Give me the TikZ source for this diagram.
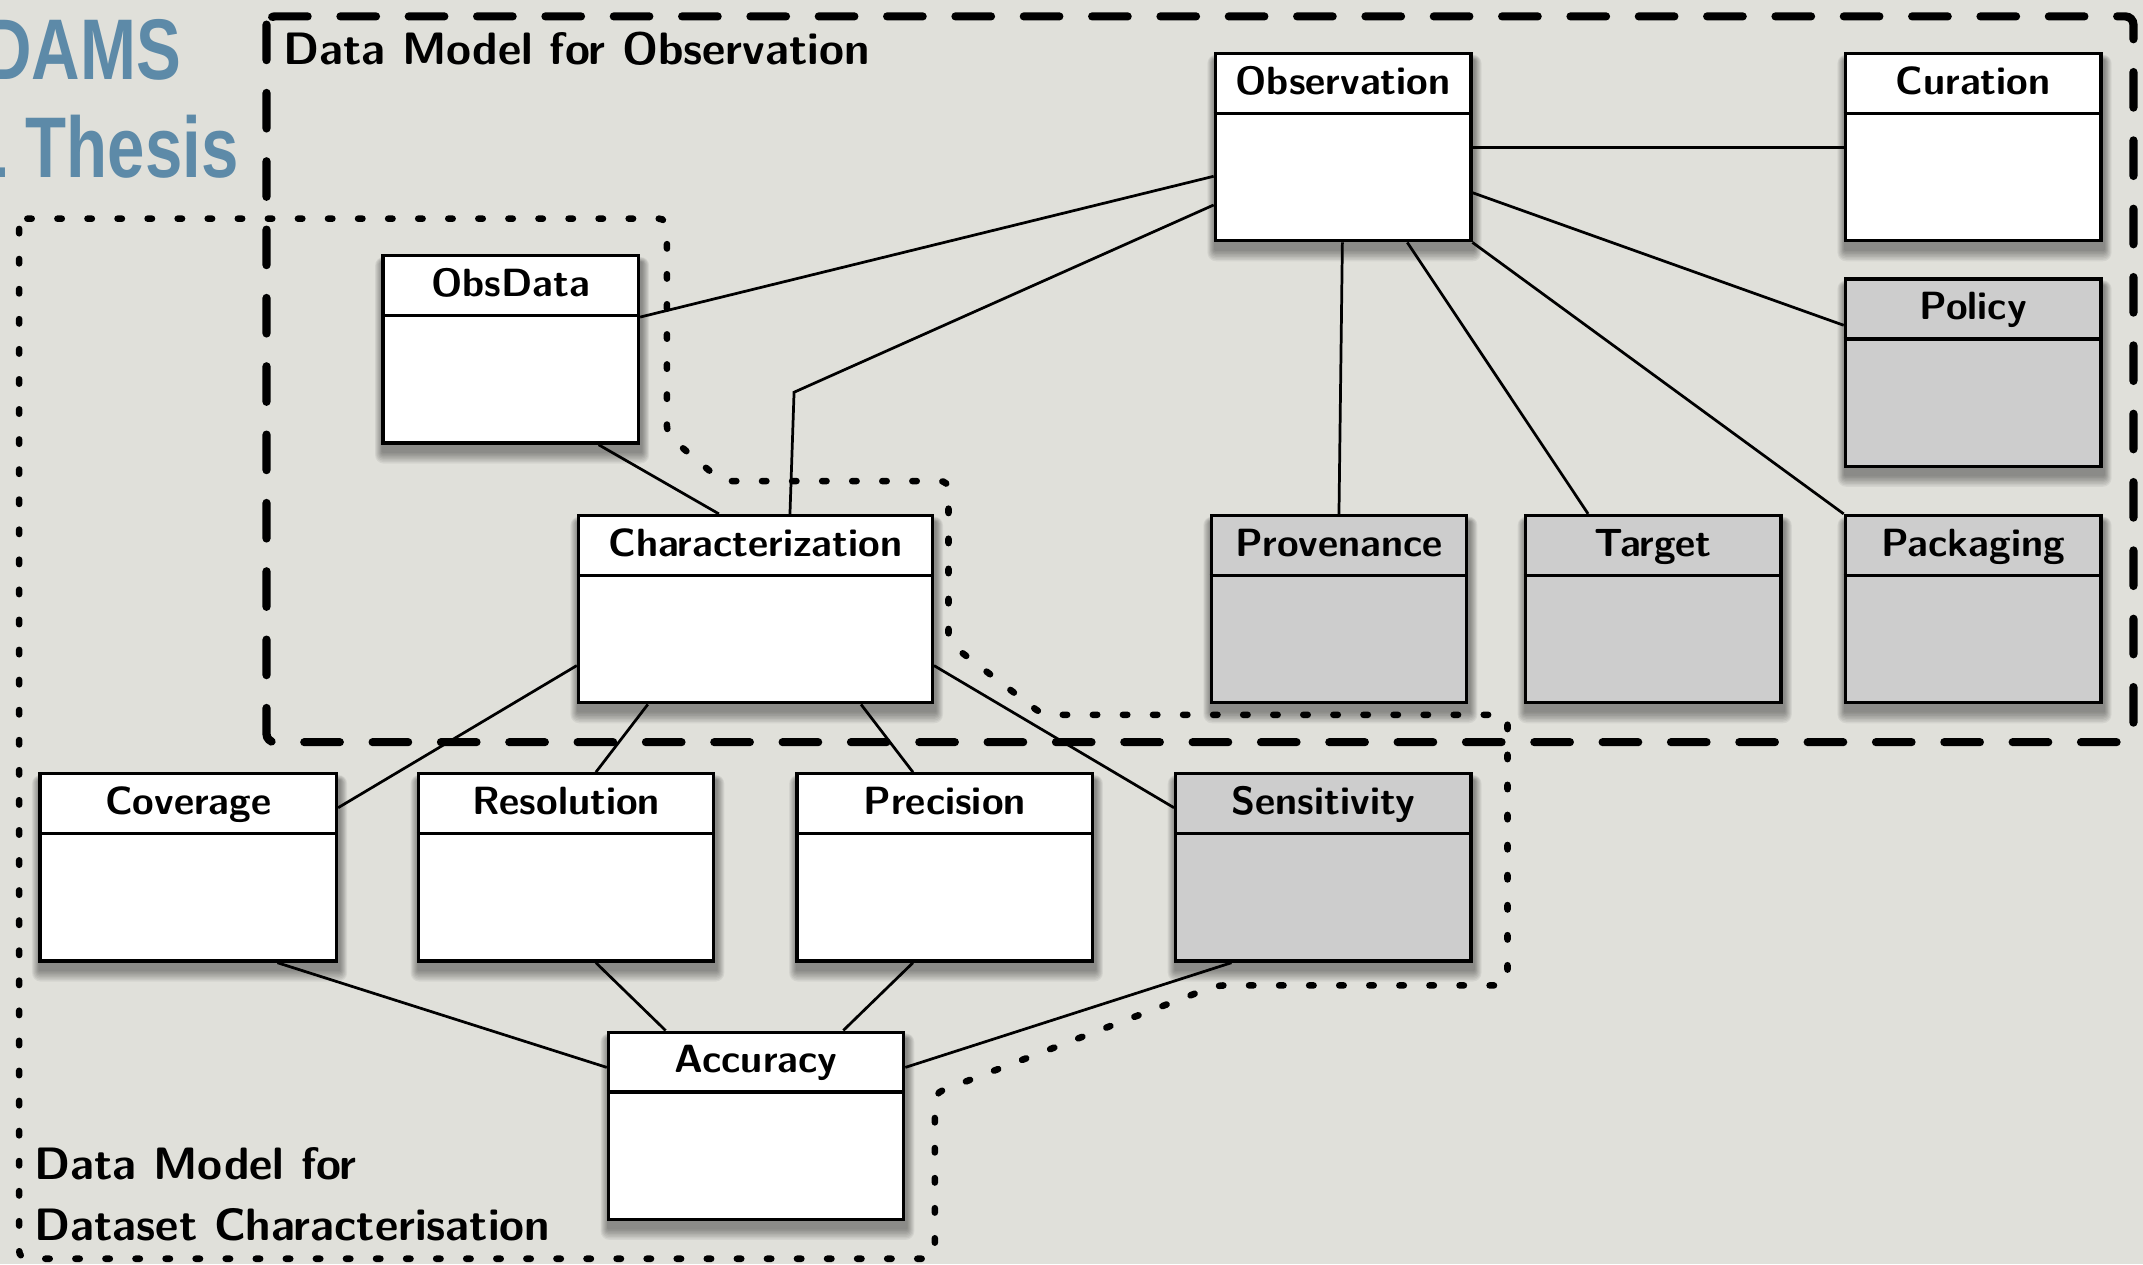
\documentclass[tikz,border=0pt]{standalone}
\usepackage{fontspec}
\usetikzlibrary{calc}
\newfontfamily\titlefont[FakeStretch=0.78]{Liberation Sans}
\definecolor{paper}{HTML}{E0E0DA}
\definecolor{titleblue}{HTML}{5D8AA8}
\definecolor{boxgray}{HTML}{CDCDCD}
\pgfdeclarelayer{paperlayer}
\pgfdeclarelayer{back}
\pgfdeclarelayer{shadowlayer}
\pgfsetlayers{paperlayer,back,shadowlayer,main}
\tikzset{
  umlclass/.style={draw=black, line width=1.2pt, inner sep=0pt, anchor=north west,
    minimum height=68.5pt},
  softshadow/.style={fill=black, opacity=0.055},
  classname/.style={anchor=base, inner sep=0pt, font=\fontsize{14.4}{16}\selectfont\sffamily\bfseries},
  framelabel/.style={anchor=base west, inner sep=0pt, font=\fontsize{16.6}{19}\selectfont\sffamily\bfseries},
  titletext/.style={anchor=base east, inner sep=0pt, text=titleblue, font=\fontsize{31.5}{34}\selectfont\titlefont\bfseries},
  conn/.style={draw=black, line width=1pt},
  obsframe/.style={draw=black, line width=3pt, line cap=round, dash pattern=on 13pt off 12pt, rounded corners=3pt},
  charframe/.style={draw=black, line width=2.4pt, line cap=round, dash pattern=on 1.6pt off 9.4pt, rounded corners=3pt}
}
% name, x, y, width (px), label, fill
\newcommand\UMLclass[6]{%
  \node[umlclass, fill=#6, minimum width=#4*0.5pt] (#1) at (#2,#3) {};
  \draw[line width=1.2pt] ($(#1.north west)+(0,45)$) -- ($(#1.north east)+(0,45)$);
  \node[classname] (#1-name) at ($(#1.north)+(0,31)$) {#5};
  \begin{pgfonlayer}{shadowlayer}
  \foreach \e in {1,...,8} {
    \fill[softshadow, rounded corners=\e*0.4pt] ($(#1.north west)+(-0.7*\e+1,-0.5*\e+6)$) rectangle ($(#1.south east)+(0.7*\e+1,1.1*\e+5)$);
  }
  \end{pgfonlayer}
}
\begin{document}
\begin{tikzpicture}[x=0.5pt, y=-0.5pt]
\useasboundingbox (0,0) rectangle (1568,925);
\begin{pgfonlayer}{paperlayer}
\fill[paper] (0,0) rectangle (1568,925);
\end{pgfonlayer}
\begin{scope}
\clip (0,0) rectangle (1568,925);
\node[titletext] (title1) at (133,58.5) {DAMS};
\node[titletext] (title2) at (175,130) {L Thesis};
\end{scope}

% classes
\UMLclass{obs}{888}{38}{187}{Observation}{white}
\UMLclass{cur}{1349}{38}{187}{Curation}{white}
\UMLclass{obsd}{279}{186}{187}{ObsData}{white}
\UMLclass{pol}{1349}{203}{187}{Policy}{boxgray}
\UMLclass{char}{422}{376}{259}{Characterization}{white}
\UMLclass{prov}{885}{376}{187}{Provenance}{boxgray}
\UMLclass{targ}{1115}{376}{187}{Target}{boxgray}
\UMLclass{pack}{1349}{376}{187}{Packaging}{boxgray}
\UMLclass{cov}{28}{565}{217}{Coverage}{white}
\UMLclass{res}{305}{565}{216}{Resolution}{white}
\UMLclass{prec}{582}{565}{216}{Precision}{white}
\UMLclass{sens}{859}{565}{216}{Sensitivity}{boxgray}
\UMLclass{acc}{444}{754}{216}{Accuracy}{white}

\begin{pgfonlayer}{back}
% frames
\draw[obsframe] (195,12) rectangle (1561,543);
\node[framelabel] (obslabel) at (207,47) {Data Model for Observation};
\draw[charframe] (14,160) -- (488,160) -- (488,318) -- (528,352) -- (694,352) -- (694,470)
  -- (763,523) -- (1103,523) -- (1103,721) -- (890,721) -- (684,800) -- (684,921)
  -- (14,921) -- cycle;
\node[framelabel] (charlabel1) at (25,863) {Data Model for};
\node[framelabel] (charlabel2) at (25,908) {Dataset Characterisation};

% connectors
\coordinate (bend) at (581,287);
\draw[conn] (obs.east) -- (cur.west);
\draw[conn] ($(obs.north west)+(0,91)$) -- ($(obsd.north east)+(0,46)$);
\draw[conn] ($(obs.north west)+(0,112)$) -- (bend) -- ($(char.north west)+(156,0)$);
\draw[conn] ($(obs.south)+(-0.5,0)$) -- (prov.north);
\draw[conn] ($(obs.south)+(47,0)$) -- ($(targ.north west)+(47,0)$);
\draw[conn] (obs.south east) -- (pack.north west);
\draw[conn] ($(obs.north east)+(0,103)$) -- ($(pol.north west)+(0,35)$);
\draw[conn] ($(obsd.south west)+(159,0)$) -- ($(char.north west)+(104,0)$);
\draw[conn] ($(char.north west)+(0,111)$) -- ($(cov.north east)+(0,26)$);
\draw[conn] ($(char.south west)+(52,0)$) -- ($(res.north west)+(131,0)$);
\draw[conn] ($(char.south west)+(208,0)$) -- ($(prec.north west)+(86,0)$);
\draw[conn] ($(char.north east)+(0,111)$) -- ($(sens.north west)+(0,26)$);
\draw[conn] ($(cov.south west)+(175,0)$) -- ($(acc.north west)+(0,27)$);
\draw[conn] ($(res.south west)+(131,0)$) -- ($(acc.north west)+(43,0)$);
\draw[conn] ($(prec.south west)+(86,0)$) -- ($(acc.north west)+(173,0)$);
\draw[conn] ($(sens.south west)+(42,0)$) -- ($(acc.north east)+(0,27)$);
\end{pgfonlayer}
\end{tikzpicture}
\end{document}
